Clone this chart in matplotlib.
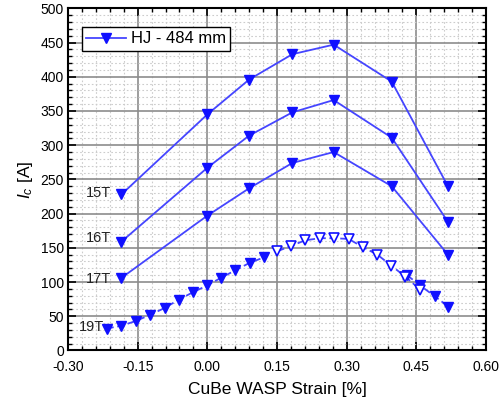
import numpy as np
import matplotlib
matplotlib.use("Agg")
import matplotlib.pyplot as plt
from matplotlib.ticker import MultipleLocator, FormatStrFormatter

plt.rcParams['font.family'] = ['Liberation Sans', 'DejaVu Sans']
plt.rcParams['mathtext.fontset'] = 'custom'
plt.rcParams['mathtext.it'] = 'Liberation Sans:italic'
plt.rcParams['mathtext.rm'] = 'Liberation Sans'

# strain steps for the 15T/16T/17T runs
strain = [-0.185, 0.0, 0.09, 0.183, 0.272, 0.397, 0.518]
ic_15T = [228, 345, 396, 433, 447, 393, 240]
ic_16T = [159, 267, 314, 348, 366, 311, 188]
ic_17T = [106, 197, 237, 274, 290, 240, 140]

# 19T fine sweep: filled = ramp up and final drop, open = around the peak
strain_19T_up = [-0.217, -0.185, -0.154, -0.123, -0.092, -0.062, -0.031,
                 0.0, 0.029, 0.06, 0.091, 0.122]
ic_19T_up = [32, 36, 43, 52, 62, 74, 85, 95, 106, 117, 128, 136]
strain_19T_down = [0.43, 0.458, 0.49, 0.519]
ic_19T_down = [110, 95, 79, 64]
strain_19T_open = [0.151, 0.181, 0.211, 0.242, 0.272, 0.304, 0.335,
                   0.366, 0.396, 0.426, 0.458]
ic_19T_open = [145, 153, 161, 164, 164, 163, 151, 140, 124, 108, 89]

field_labels = ["15T", "16T", "17T", "19T"]
label_pos = [(-0.207, 230), (-0.207, 165), (-0.207, 104), (-0.222, 34)]

mk_col = '#1010ff'
ln_col = '#4545ff'

fig = plt.figure(figsize=(5, 4), dpi=100)
ax = fig.add_axes([0.136, 0.124, 0.836, 0.855])

for ys in [ic_15T, ic_16T, ic_17T]:
    ax.plot(strain, ys, color=ln_col, lw=1.3, zorder=3)
    ax.plot(strain, ys, ls='none', marker='v', ms=7.5, color=mk_col, zorder=4)

dash = (0, (4, 2))
ax.plot(strain_19T_open, ic_19T_open, color=ln_col, lw=1.3, ls=dash, zorder=3)
ax.plot(strain_19T_up, ic_19T_up, color=ln_col, lw=1.3, ls=dash, zorder=3)
ax.plot(strain_19T_down, ic_19T_down, color=ln_col, lw=1.3, ls=dash, zorder=3)
ax.plot(strain_19T_up, ic_19T_up, ls='none', marker='v', ms=7.5, color=mk_col, zorder=4)
ax.plot(strain_19T_down, ic_19T_down, ls='none', marker='v', ms=7.5, color=mk_col, zorder=4)
ax.plot(strain_19T_open, ic_19T_open, ls='none', marker='v', ms=7, mfc='white',
        mec=mk_col, mew=1.2, zorder=5)

for lab, (lx, ly) in zip(field_labels, label_pos):
    ax.text(lx, ly, lab, fontsize=10.5, color='#222222', ha='right', va='center',
            zorder=6)

# legend entry
ax.plot([], [], color=ln_col, lw=1.3, marker='v', ms=7.5, mfc=mk_col, mec=mk_col,
        label='HJ - 484 mm')
leg = ax.legend(loc='upper left', bbox_to_anchor=(0.033, 0.945), borderaxespad=0,
                fontsize=12, frameon=True, fancybox=False, handlelength=2.4,
                handletextpad=0.3, borderpad=0.25, framealpha=1)
leg.get_frame().set_edgecolor('black')
leg.get_frame().set_linewidth(1.0)

ax.set_xlim(-0.30, 0.60)
ax.set_ylim(0, 500)
ax.xaxis.set_major_locator(MultipleLocator(0.15))
ax.xaxis.set_minor_locator(MultipleLocator(0.03))
ax.yaxis.set_major_locator(MultipleLocator(50))
ax.yaxis.set_minor_locator(MultipleLocator(10))
ax.xaxis.set_major_formatter(FormatStrFormatter('%.2f'))

ax.grid(which='major', color='#8c8c8c', lw=1.2, zorder=1)
ax.grid(which='minor', color='#cccccc', lw=0.8, ls=(0, (1.5, 2)), zorder=0)

ax.tick_params(which='both', direction='in', top=True, right=True,
               labelsize=10, colors='black')
ax.tick_params(axis='x', pad=7)
ax.tick_params(axis='y', pad=3)
ax.tick_params(which='major', length=6, width=1.2)
ax.tick_params(which='minor', length=3, width=1.0)
for sp in ax.spines.values():
    sp.set_linewidth(1.5)

ax.set_xlabel('CuBe WASP Strain [%]', fontsize=12.5, labelpad=6)
ax.set_ylabel(r'$I_c$ [A]', fontsize=12.5, labelpad=4)

fig.savefig('out.png', dpi=100)
